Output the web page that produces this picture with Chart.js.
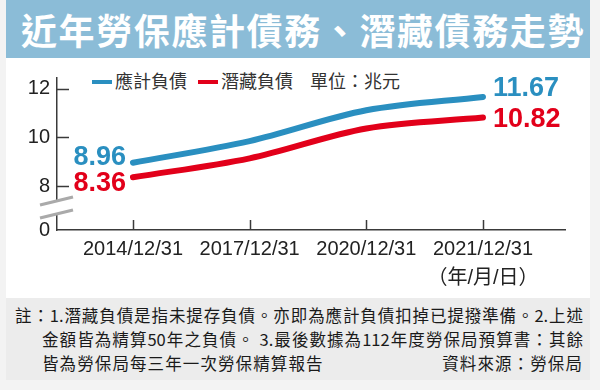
<!DOCTYPE html>
<html>
<head>
<meta charset="utf-8">
<script src="https://cdn.jsdelivr.net/npm/chart.js@4"></script>
<style>
body { margin:0; width:600px; height:390px; background:#f3f3f3; position:relative; overflow:hidden; font-family:"Noto Sans CJK TC", sans-serif; }
#banner { position:absolute; left:6px; top:0; width:584px; height:58px; background:#8bbcd7; }
#title { position:absolute; left:21px; top:7px; color:#fff; font-weight:700; font-size:36px; line-height:44px; letter-spacing:1.6px; white-space:nowrap; }
#panel { position:absolute; left:6px; top:58px; width:584px; height:240px; background:#fff; }
#notes { position:absolute; left:6px; top:298px; width:584px; height:82px; background:#ececec; }
.nl { position:absolute; font-size:16.5px; line-height:20px; color:#1a1a1a; white-space:nowrap; }
.just { text-align:justify; text-align-last:justify; white-space:normal; overflow:hidden; height:20px; }
#legend { position:absolute; left:92px; top:70px; font-size:18px; line-height:21px; color:#333; white-space:nowrap; }
#legend span.dash { display:inline-block; width:20px; height:4px; vertical-align:middle; margin-right:3px; position:relative; top:-1px; }
#legend span.item { margin-right:11px; }
#chart { position:absolute; left:0; top:0; }
</style>
</head>
<body>
<div id="banner"></div>
<div id="title">近年勞保應計債務、潛藏債務走勢</div>
<div id="panel"></div>
<div id="notes"></div>
<div class="nl just" style="left:15px; width:568px; top:305px;">註：1.潛藏負債是指未提存負債。亦即為應計負債扣掉已提撥準備。2.上述</div>
<div class="nl just" style="left:42px; width:541px; top:329px;">金額皆為精算50年之負債。 3.最後數據為112年度勞保局預算書：其餘</div>
<div class="nl" style="left:42px; top:353px; letter-spacing:1.1px;">皆為勞保局每三年一次勞保精算報告</div>
<div class="nl" style="right:17px; top:353px; letter-spacing:1.1px;">資料來源：勞保局</div>
<div id="legend"></div>
<canvas id="chart" width="600" height="390"></canvas>
<script>
const dates = ['2014/12/31', '2017/12/31', '2020/12/31', '2021/12/31'];
const dateUnit = '（年/月/日）';
const accrued = [8.96, 9.85, 11.12, 11.67];
const hidden = [8.36, 9.14, 10.37, 10.82];
const seriesNames = ['應計負債', '潛藏負債'];
const seriesColors = ['#2a8fc0', '#e2001a'];
const unitText = '單位：兆元';
const yTicks = [8, 10, 12];
const yBreakLabel = '0';
const yMin = 6.19;
const yMax = 12.45;

// legend (html)
let lg = document.getElementById('legend');
seriesNames.forEach(function(n, i) {
    lg.innerHTML += '<span class="item"><span class="dash" style="background:' + seriesColors[i] + '"></span>' + n + '</span>';
});
lg.innerHTML += '<span style="margin-left:6px">' + unitText + '</span>';

const axisColor = '#3a3a3a';

function toPoints(arr) {
    return arr.map(function(v, i) { return {x: i, y: v}; });
}

const extras = {
    id: 'extras',
    afterDraw: (chart) => {
        const {ctx} = chart;
        const xs = chart.scales.x, ys = chart.scales.y;
        ctx.save();
        ctx.strokeStyle = axisColor;
        ctx.lineWidth = 1.5;
        // inward tick marks
        yTicks.forEach(function(v) {
            let y = Math.round(ys.getPixelForValue(v)) + 0.5;
            ctx.beginPath(); ctx.moveTo(xs.left, y); ctx.lineTo(xs.left + 12, y); ctx.stroke();
        });
        dates.forEach(function(d, i) {
            let x = Math.round(xs.getPixelForValue(i)) + 0.5;
            ctx.beginPath(); ctx.moveTo(x, ys.bottom); ctx.lineTo(x, ys.bottom - 10); ctx.stroke();
        });
        // axis break
        let ax = xs.left, yb = ys.bottom;
        ctx.fillStyle = '#fff';
        ctx.beginPath();
        ctx.moveTo(ax - 17, yb - 25); ctx.lineTo(ax + 16, yb - 33);
        ctx.lineTo(ax + 16, yb - 20); ctx.lineTo(ax - 17, yb - 12);
        ctx.closePath(); ctx.fill();
        ctx.strokeStyle = '#aaa';
        ctx.lineWidth = 3;
        ctx.beginPath(); ctx.moveTo(ax - 17, yb - 25); ctx.lineTo(ax + 16, yb - 33); ctx.stroke();
        ctx.beginPath(); ctx.moveTo(ax - 17, yb - 12); ctx.lineTo(ax + 16, yb - 20); ctx.stroke();
        // end value labels
        ctx.font = 'bold 27px "Liberation Sans", Arial, sans-serif';
        ctx.textBaseline = 'middle';
        chart.data.datasets.forEach(function(ds, di) {
            let meta = chart.getDatasetMeta(di);
            let n = ds.data.length;
            let p0 = meta.data[0], p1 = meta.data[n - 1];
            ctx.fillStyle = ds.borderColor;
            ctx.textAlign = 'right';
            ctx.fillText(ds.data[0].y.toFixed(2), p0.x - 7, p0.y + (di === 0 ? -5 : 6));
            ctx.textAlign = 'left';
            ctx.fillText(ds.data[n - 1].y.toFixed(2), p1.x + 10, p1.y + (di === 0 ? -8 : 2));
        });
        ctx.restore();
    }
};

new Chart(document.getElementById('chart'), {
    type: 'line',
    data: {
        datasets: [
            {
                label: seriesNames[0],
                data: toPoints(accrued),
                borderColor: seriesColors[0],
                backgroundColor: seriesColors[0],
            }, {
                label: seriesNames[1],
                data: toPoints(hidden),
                borderColor: seriesColors[1],
                backgroundColor: seriesColors[1],
            }
        ],
    },
    options: {
        responsive: false,
        devicePixelRatio: 1,
        animation: false,
        elements: {
            point: { radius: 0 },
            line: { borderWidth: 6, cubicInterpolationMode: 'monotone', borderCapStyle: 'round' },
        },
        layout: { padding: { left: 0, right: 35, top: 78, bottom: 0 } },
        plugins: {
            legend: { display: false },
            tooltip: { enabled: false },
        },
        scales: {
            x: {
                type: 'linear',
                min: -0.651,
                max: 3.703,
                afterFit: (s) => { s.height = 160; },
                afterBuildTicks: (s) => { s.ticks = dates.map(function(d, i) { return {value: i}; }); },
                grid: { display: false, drawTicks: false },
                border: { display: true, color: axisColor, width: 1.5 },
                ticks: {
                    autoSkip: false,
                    maxRotation: 0,
                    padding: 5,
                    color: '#222',
                    font: { family: '"Liberation Sans", "Noto Sans CJK TC", sans-serif', size: 20, lineHeight: 1.45 },
                    callback: function(v) {
                        return v === dates.length - 1 ? [dates[v], dateUnit] : dates[v];
                    },
                },
            },
            y: {
                type: 'linear',
                min: yMin,
                max: yMax,
                afterFit: (s) => { s.width = 57; },
                afterBuildTicks: (s) => { s.ticks = [yMin].concat(yTicks).map(function(v) { return {value: v}; }); },
                grid: { display: false, drawTicks: false },
                border: { display: true, color: axisColor, width: 1.5 },
                ticks: {
                    padding: 7,
                    color: '#222',
                    font: { family: '"Liberation Sans", Arial, sans-serif', size: 20 },
                    callback: function(v) { return v === yMin ? yBreakLabel : v; },
                },
            },
        },
    },
    plugins: [extras],
});
</script>
</body>
</html>
